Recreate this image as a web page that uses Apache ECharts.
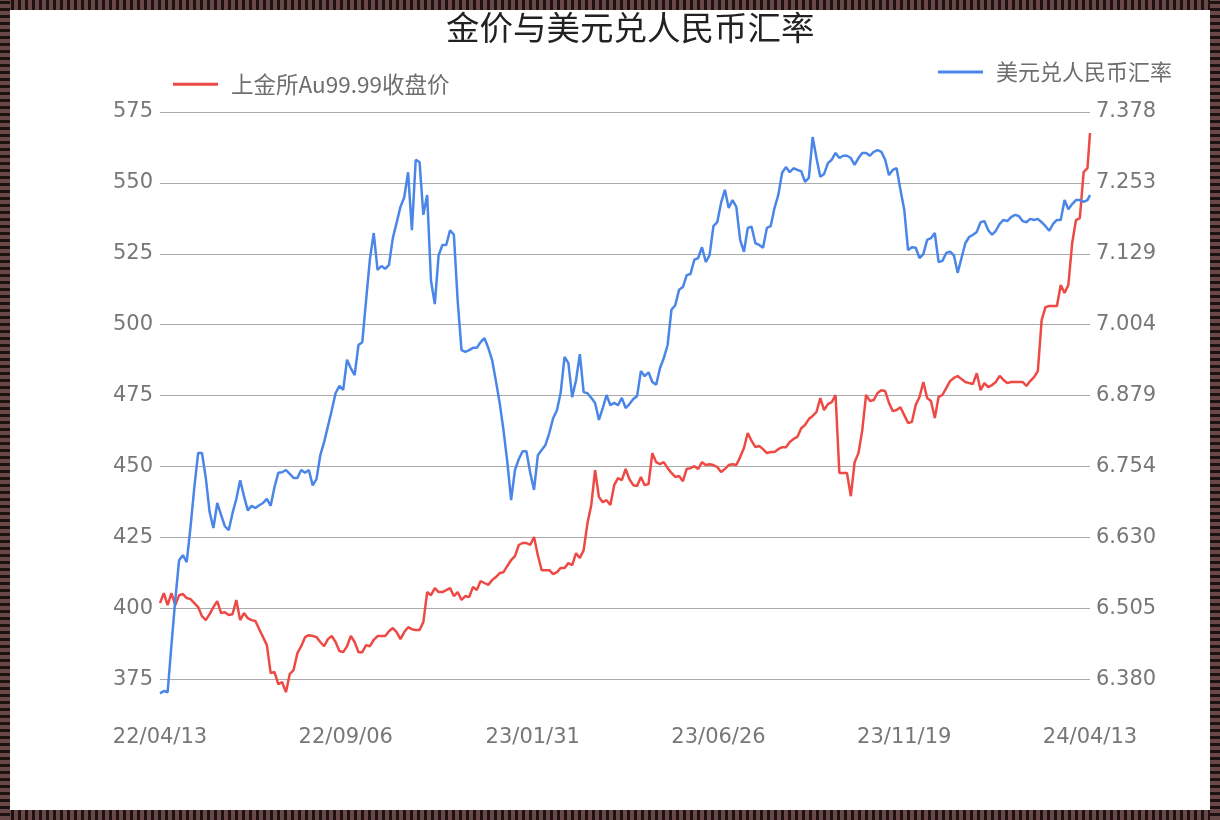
<!DOCTYPE html>
<html>
<head>
<meta charset="utf-8">
<script src="https://cdn.jsdelivr.net/npm/echarts@6/dist/echarts.min.js"></script>
<style>
  html, body { margin: 0; padding: 0; background: #fff; }
  #wrap { position: relative; width: 1220px; height: 820px; }
  #chart { position: absolute; left: 0; top: 0; width: 1220px; height: 820px; }
  .bd { position: absolute; pointer-events: none; }
  .bt, .bb { left: 0; width: 1220px; height: 10px;
    background: repeating-linear-gradient(90deg, #6a4848 0px, #6a4848 4px, #1c1212 4px, #1c1212 7px); }
  .bt { top: 0; } .bb { top: 810px; }
  .bl, .br { top: 0; width: 10px; height: 820px;
    background: repeating-linear-gradient(0deg, #6a4848 0px, #6a4848 4px, #1c1212 4px, #1c1212 7px); }
  .bl { left: 0; } .br { left: 1210px; }
</style>
</head>
<body>
<div id="wrap">
  <div id="chart"></div>
  <div class="bd bt"></div><div class="bd bb"></div><div class="bd bl"></div><div class="bd br"></div>
</div>
<script>
// ---- data ----
const titleText = '金价与美元兑人民币汇率';
const goldName = '上金所Au99.99收盘价';
const usdName = '美元兑人民币汇率';

// sampling: every 3 calendar days from 2022-04-13, plus the final day 2024-04-13
const startDate = [2022, 4, 13];
const stepDays = 3;
const endDate = [2024, 4, 13];

const goldValues = [
  401.8,405.3,401.1,405.3,401.1,404.6,405.0,403.6,403.2,401.8,
  400.4,397.2,395.8,397.9,400.4,402.5,398.3,398.6,397.6,397.9,
  402.9,395.8,398.3,396.5,395.8,395.5,392.6,389.8,387.0,377.1,
  377.5,373.2,373.9,370.4,376.8,378.2,384.2,386.6,389.8,390.5,
  390.2,389.8,388.1,386.6,389.1,390.2,388.1,384.9,384.5,386.6,
  390.2,388.1,384.5,384.5,387.0,386.6,388.8,390.2,390.2,390.2,
  391.9,393.0,391.6,389.1,391.6,393.3,392.6,392.3,392.3,395.1,
  405.7,404.6,407.1,405.7,405.7,406.4,407.1,404.3,405.7,402.9,
  404.3,403.9,407.5,406.4,409.6,408.9,408.2,409.9,411.0,412.4,
  412.7,414.9,417.0,418.4,422.3,423.0,423.0,422.3,425.1,418.7,
  413.4,413.4,413.4,412.0,412.7,414.2,414.2,415.9,415.2,419.4,
  417.7,420.5,430.0,436.4,448.7,439.2,437.4,438.1,436.4,443.4,
  445.9,445.2,449.1,445.5,443.4,443.1,446.3,443.4,443.8,454.7,
  451.5,450.8,451.5,449.4,447.7,446.3,446.6,444.8,449.1,449.4,
  450.1,449.1,451.5,450.5,450.8,450.5,449.8,448.0,449.1,450.5,
  450.8,450.5,453.3,456.5,461.8,459.0,456.8,457.2,456.1,454.7,
  455.1,455.1,456.1,456.8,456.8,458.6,459.7,460.4,463.5,464.6,
  466.7,467.8,469.2,474.1,469.9,472.0,472.7,475.2,447.7,447.7,
  447.7,439.5,451.5,454.7,462.8,475.2,473.1,473.4,475.9,476.9,
  476.6,472.4,469.5,469.9,470.9,468.1,465.3,465.7,471.7,474.5,
  479.8,474.1,473.1,467.1,474.5,475.2,477.6,480.1,481.2,481.9,
  480.8,479.8,479.4,479.1,482.9,476.9,479.4,478.0,478.7,479.8,
  481.9,480.5,479.4,479.8,479.8,479.8,479.8,478.4,480.1,481.5,
  483.6,501.6,506.2,506.6,506.6,506.6,514.0,511.2,514.0,528.8,
  536.9,537.6,553.8,555.2,
  567.6
];

const usdValues = [
  6.355,6.359,6.357,6.440,6.519,6.589,6.598,6.586,6.648,6.718,
  6.778,6.778,6.734,6.674,6.646,6.690,6.669,6.649,6.642,6.672,
  6.697,6.730,6.702,6.677,6.685,6.681,6.686,6.690,6.697,6.685,
  6.718,6.743,6.744,6.748,6.741,6.734,6.734,6.748,6.743,6.748,
  6.721,6.732,6.774,6.797,6.825,6.853,6.883,6.896,6.889,6.942,
  6.927,6.915,6.968,6.973,7.047,7.119,7.165,7.100,7.107,7.102,
  7.109,7.156,7.183,7.211,7.228,7.272,7.170,7.294,7.290,7.197,
  7.232,7.081,7.040,7.126,7.144,7.144,7.170,7.162,7.045,6.959,
  6.956,6.959,6.963,6.963,6.973,6.980,6.963,6.942,6.905,6.866,
  6.818,6.762,6.695,6.748,6.767,6.781,6.781,6.743,6.713,6.774,
  6.783,6.792,6.813,6.839,6.853,6.885,6.947,6.936,6.876,6.906,
  6.952,6.885,6.883,6.875,6.866,6.836,6.857,6.880,6.862,6.866,
  6.862,6.875,6.857,6.864,6.873,6.878,6.922,6.913,6.920,6.903,
  6.898,6.927,6.945,6.968,7.030,7.038,7.065,7.070,7.091,7.093,
  7.118,7.121,7.140,7.114,7.126,7.177,7.184,7.218,7.241,7.209,
  7.223,7.211,7.153,7.132,7.174,7.176,7.147,7.144,7.139,7.174,
  7.177,7.209,7.232,7.271,7.281,7.272,7.279,7.276,7.274,7.255,
  7.262,7.334,7.297,7.264,7.269,7.288,7.294,7.306,7.297,7.301,
  7.301,7.297,7.285,7.297,7.306,7.306,7.301,7.308,7.311,7.308,
  7.294,7.267,7.276,7.279,7.241,7.206,7.135,7.140,7.139,7.121,
  7.128,7.153,7.156,7.165,7.114,7.116,7.130,7.132,7.126,7.095,
  7.121,7.147,7.158,7.162,7.167,7.184,7.186,7.170,7.162,7.169,
  7.181,7.188,7.186,7.193,7.197,7.195,7.186,7.184,7.190,7.188,
  7.190,7.184,7.177,7.169,7.181,7.188,7.188,7.223,7.207,7.216,
  7.223,7.223,7.220,7.223,
  7.232
];

const xTickDates = ['2022-04-13','2022-09-06','2023-01-31','2023-06-26','2023-11-19','2024-04-13'];
const xTickLabels = ['22/04/13','22/09/06','23/01/31','23/06/26','23/11/19','24/04/13'];
const leftTickLabels = ['375','400','425','450','475','500','525','550','575'];
const rightTickLabels = ['6.380','6.505','6.630','6.754','6.879','7.004','7.129','7.253','7.378'];

// ---- build ----
function ts(y, m, d) { return new Date(y, m - 1, d).getTime(); }
function parseDay(s) { const p = s.split('-').map(Number); return ts(p[0], p[1], p[2]); }

const dates = [];
for (let i = 0; i < goldValues.length - 1; i++) {
  dates.push(ts(startDate[0], startDate[1], startDate[2] + stepDays * i));
}
dates.push(ts(endDate[0], endDate[1], endDate[2]));

const goldData = dates.map((t, i) => [t, goldValues[i]]);
const usdData = dates.map((t, i) => [t, usdValues[i]]);
const xTickTs = xTickDates.map(parseDay);

const leftStep = Number(leftTickLabels[1]) - Number(leftTickLabels[0]);
const leftMin = Number(leftTickLabels[0]) - leftStep;
const leftMax = Number(leftTickLabels[leftTickLabels.length - 1]);
const rightStep = (Number(rightTickLabels[rightTickLabels.length - 1]) - Number(rightTickLabels[0])) / (rightTickLabels.length - 1);
const rightMin = Number(rightTickLabels[0]) - rightStep;
const rightMax = Number(rightTickLabels[rightTickLabels.length - 1]);

function nearestLabel(values, labels, v) {
  let best = 0, bd = Infinity;
  values.forEach((t, i) => { const d = Math.abs(t - v); if (d < bd) { bd = d; best = i; } });
  return labels[best];
}

const axisFont = 'DejaVu Sans, Noto Sans CJK SC, sans-serif';
const cjkFont = 'Noto Sans CJK SC, DejaVu Sans, sans-serif';
const labelColor = '#777';

const chart = echarts.init(document.getElementById('chart'), null, { renderer: 'canvas' });
chart.setOption({
  animation: false,
  backgroundColor: '#fff',
  title: {
    text: titleText,
    left: 441,
    top: 6,
    textStyle: { fontSize: 33.5, fontWeight: 'normal', color: '#222', fontFamily: cjkFont }
  },
  legend: [
    {
      data: [goldName], left: 168, top: 68,
      icon: 'rect', itemWidth: 45, itemHeight: 3,
      textStyle: { fontSize: 22.5, color: '#6e6e6e', fontFamily: cjkFont, padding: [0, 0, 0, 8] }
    },
    {
      data: [usdName], left: 933, top: 56,
      icon: 'rect', itemWidth: 45, itemHeight: 3,
      textStyle: { fontSize: 22, color: '#6e6e6e', fontFamily: cjkFont, padding: [0, 0, 0, 8] }
    }
  ],
  grid: { left: 160, right: 130, top: 112, bottom: 70, containLabel: false },
  xAxis: {
    type: 'value',
    min: dates[0],
    max: dates[dates.length - 1],
    offset: -30,
    axisLine: { show: false },
    axisTick: { show: false },
    splitLine: { show: false },
    axisLabel: {
      customValues: xTickTs,
      formatter: function (v) { return nearestLabel(xTickTs, xTickLabels, v); },
      fontSize: 21, color: labelColor, fontFamily: axisFont, margin: 7
    }
  },
  yAxis: [
    {
      type: 'value', position: 'left',
      min: leftMin, max: leftMax, interval: leftStep,
      axisLine: { show: false }, axisTick: { show: false },
      axisLabel: {
        showMinLabel: false, fontSize: 21, color: labelColor, fontFamily: axisFont, margin: 7,
        formatter: function (v) { return nearestLabel(leftTickLabels.map(Number), leftTickLabels, v); }
      },
      splitLine: { show: true, showMinLine: false, lineStyle: { color: '#aaa', width: 1 } }
    },
    {
      type: 'value', position: 'right',
      min: rightMin, max: rightMax,
      axisLine: { show: false }, axisTick: { show: false },
      splitLine: { show: false },
      axisLabel: {
        customValues: rightTickLabels.map(Number),
        formatter: function (v) { return nearestLabel(rightTickLabels.map(Number), rightTickLabels, v); },
        fontSize: 21, color: labelColor, fontFamily: axisFont, margin: 6
      }
    }
  ],
  series: [
    {
      name: goldName, type: 'line', yAxisIndex: 0, data: goldData,
      showSymbol: false, symbol: 'none',
      lineStyle: { color: '#ee4a45', width: 2.5 }, itemStyle: { color: '#ee4a45' }
    },
    {
      name: usdName, type: 'line', yAxisIndex: 1, data: usdData,
      showSymbol: false, symbol: 'none',
      lineStyle: { color: '#4a86e8', width: 2.5 }, itemStyle: { color: '#4a86e8' }
    }
  ]
});
</script>
</body>
</html>
